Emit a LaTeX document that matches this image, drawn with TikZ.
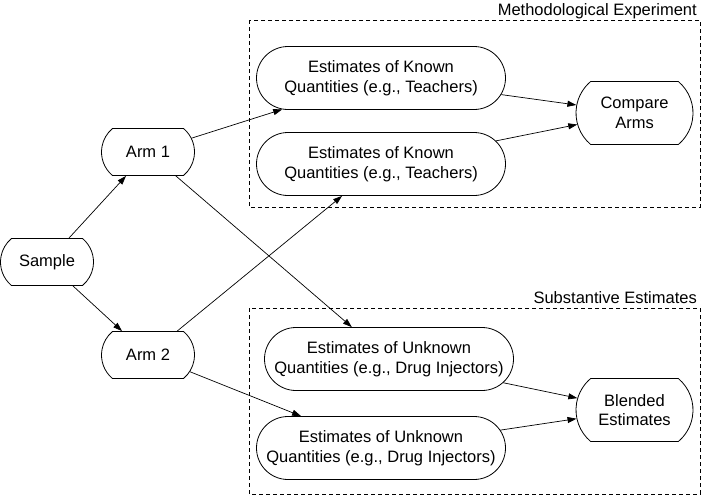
\documentclass[tikz,border=0pt]{standalone}
\usepackage{fontspec}
\setmainfont{Liberation Sans}
\usetikzlibrary{shapes.misc,arrows.meta}

\tikzset{
  blob/.style={draw,rounded rectangle,rounded rectangle arc length=100,inner sep=0pt,align=center,line width=0.8pt},
  armbox/.style={blob,minimum width=93pt,minimum height=47pt},
  estbox/.style={draw,rounded rectangle,inner sep=0pt,align=center,line width=0.8pt,minimum width=249pt,minimum height=63pt},
  endbox/.style={blob,minimum width=117pt,minimum height=63pt},
  group/.style={draw,dash pattern=on 4pt off 3pt,line width=0.7pt},
  link/.style={-{Triangle[length=9pt,width=6pt]},line width=0.7pt}
}

\begin{document}
\begin{tikzpicture}[x=1pt,y=-1pt,font=\fontsize{16.5}{19.5}\selectfont]
\useasboundingbox (0,0) rectangle (701,496);

% dashed groups
\draw[group] (249,20) rectangle (700,207);
\draw[group] (249,308) rectangle (700,494);
\node[anchor=base east,inner sep=0pt] (metlabel) at (697,15) {Methodological Experiment};
\node[anchor=base east,inner sep=0pt] (sublabel) at (697,303) {Substantive Estimates};

% nodes
\node[armbox] (sample) at (47,262) {Sample};
\node[armbox] (arm1) at (148,152) {Arm 1};
\node[armbox] (arm2) at (148,355) {Arm 2};
\node[estbox] (known1) at (381,78) {Estimates of Known\\Quantities (e.g., Teachers)};
\node[estbox] (known2) at (381,164) {Estimates of Known\\Quantities (e.g., Teachers)};
\node[estbox] (unknown1) at (389,359) {Estimates of Unknown\\Quantities (e.g., Drug Injectors)};
\node[estbox] (unknown2) at (381,448) {Estimates of Unknown\\Quantities (e.g., Drug Injectors)};
\node[endbox] (compare) at (634.5,113) {Compare\\Arms};
\node[endbox] (blended) at (634.5,410) {Blended\\Estimates};

% arrows
\draw[link] (sample) -- (arm1);
\draw[link] (sample) -- (arm2);
\draw[link] (arm1) -- (known1);
\draw[link] (arm1) -- (unknown1);
\draw[link] (arm2) -- (known2);
\draw[link] (arm2) -- (unknown2);
\draw[link] (known1) -- (compare);
\draw[link] (known2) -- (compare);
\draw[link] (unknown1) -- (blended);
\draw[link] (unknown2) -- (blended);
\end{tikzpicture}
\end{document}
